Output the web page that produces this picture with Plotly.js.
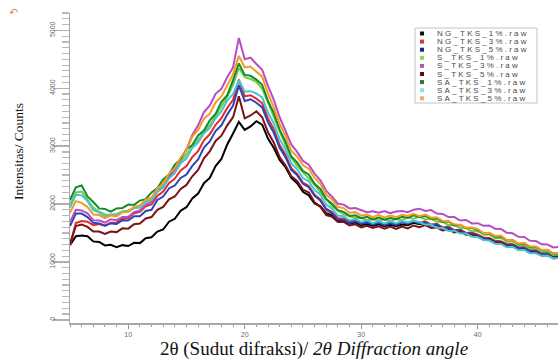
<!DOCTYPE html>
<html><head><meta charset="utf-8">
<script src="https://cdn.plot.ly/plotly-3.0.1.min.js"></script>
<style>html,body{margin:0;padding:0;background:#fff}#chart{width:558px;height:360px}</style>
</head><body><div id="chart"></div>
<script>
// 2θ grid (degrees)
const twoTheta = [5,5.5,6,6.5,7,7.5,8,8.5,9,9.5,10,10.5,11,11.5,12,12.5,13,13.5,14,14.5,15,15.5,16,16.5,17,17.5,18,18.5,19,19.5,20,20.5,21,21.5,22,22.5,23,23.5,24,24.5,25,25.5,26,26.5,27,27.5,28,28.5,29,29.5,30,30.5,31,31.5,32,32.5,33,33.5,34,34.5,35,35.5,36,36.5,37,37.5,38,38.5,39,39.5,40,40.5,41,41.5,42,42.5,43,43.5,44,44.5,45,45.5,46,46.5,47];

const seriesNames = ["NG_TKS_1%.raw","NG_TKS_3%.raw","NG_TKS_5%.raw","S_TKS_1%.raw","S_TKS_3%.raw","S_TKS_5%.raw","SA_TKS_1%.raw","SA_TKS_3%.raw","SA_TKS_5%.raw"];

const NG_TKS_1 = [1290,1445,1455,1445,1355,1345,1285,1295,1255,1290,
1275,1330,1325,1410,1425,1525,1560,1695,1745,1885,
1945,2095,2180,2360,2450,2655,2780,3030,3220,3420,
3280,3340,3430,3370,3130,2970,2760,2640,2450,2360,
2210,2150,2010,1960,1840,1805,1725,1715,1665,1680,
1635,1655,1620,1650,1615,1640,1615,1645,1635,1675,
1650,1675,1630,1640,1585,1595,1540,1545,1490,1495,
1465,1405,1410,1350,1350,1295,1295,1240,1245,1185,
1190,1135,1140,1095,1100];

const NG_TKS_3 = [1290,1670,1705,1695,1635,1655,1625,1675,1680,1745,
1760,1840,1865,1960,1995,2140,2215,2360,2440,2580,
2655,2810,2915,3100,3205,3370,3485,3660,3800,4150,
3860,3880,3820,3740,3480,3290,3020,2850,2620,2520,
2370,2310,2160,2080,1920,1860,1755,1750,1695,1720,
1675,1700,1655,1690,1650,1685,1655,1700,1675,1710,
1675,1700,1645,1660,1595,1610,1545,1560,1500,1510,
1470,1420,1410,1365,1355,1310,1300,1255,1250,1200,
1200,1155,1160,1115,1125];

const NG_TKS_5 = [1620,1835,1835,1775,1675,1665,1625,1665,1655,1720,
1715,1790,1790,1880,1900,2070,2130,2270,2320,2450,
2510,2660,2770,2975,3080,3260,3360,3545,3700,4050,
3780,3810,3750,3670,3410,3230,2970,2810,2590,2500,
2350,2290,2140,2060,1900,1840,1735,1730,1675,1700,
1655,1685,1645,1675,1635,1670,1640,1685,1660,1700,
1665,1690,1630,1650,1580,1600,1535,1550,1490,1500,
1460,1410,1405,1350,1350,1295,1300,1245,1250,1195,
1195,1145,1150,1105,1115];

const S_TKS_1 = [1980,2200,2215,2070,1940,1870,1820,1815,1830,1870,
1890,1930,1960,2040,2100,2230,2320,2470,2590,2730,
2860,2990,3100,3240,3360,3520,3690,3850,4060,4350,
4190,4160,4110,3990,3750,3490,3260,3020,2800,2660,
2550,2450,2330,2200,2070,1960,1880,1825,1790,1760,
1760,1720,1735,1715,1735,1705,1740,1720,1765,1745,
1780,1735,1745,1695,1695,1635,1640,1585,1585,1530,
1535,1470,1475,1410,1415,1350,1355,1290,1295,1230,
1240,1175,1185,1120,1130];

const S_TKS_3 = [1690,1900,1890,1840,1720,1715,1680,1735,1720,1775,
1780,1860,1890,1985,2040,2215,2290,2470,2585,2790,
2940,3195,3360,3590,3700,3905,3990,4190,4360,4870,
4500,4530,4420,4320,4040,3800,3500,3280,3030,2900,
2745,2680,2525,2410,2225,2125,2005,1990,1925,1930,
1900,1860,1875,1850,1880,1840,1870,1880,1860,1900,
1920,1880,1895,1835,1830,1775,1775,1715,1725,1665,
1670,1625,1630,1575,1570,1505,1495,1435,1430,1365,
1360,1305,1300,1250,1260];

const S_TKS_5 = [1310,1620,1645,1605,1525,1525,1485,1525,1515,1580,
1575,1650,1665,1750,1775,1900,1950,2080,2130,2260,
2330,2480,2590,2790,2910,3090,3180,3360,3500,3860,
3480,3530,3600,3500,3240,3060,2810,2670,2480,2400,
2250,2200,2030,1950,1810,1780,1690,1690,1630,1650,
1595,1625,1585,1615,1575,1610,1570,1610,1580,1630,
1600,1635,1585,1595,1545,1560,1510,1525,1470,1475,
1445,1385,1390,1335,1335,1275,1275,1215,1215,1160,
1165,1110,1115,1065,1070];

const SA_TKS_1 = [2070,2290,2320,2130,2035,1925,1915,1870,1925,1930,
1990,1985,2060,2085,2200,2275,2425,2510,2680,2775,
2945,3020,3185,3270,3445,3555,3765,3880,4140,4430,
4230,4215,4150,4060,3780,3570,3280,3080,2820,2720,
2570,2510,2350,2260,2085,2005,1895,1865,1795,1805,
1755,1780,1735,1765,1730,1760,1740,1780,1765,1805,
1775,1795,1745,1750,1690,1700,1630,1640,1585,1585,
1555,1495,1500,1435,1440,1375,1380,1310,1320,1255,
1260,1200,1205,1145,1150];

const SA_TKS_3 = [1940,2160,2150,2050,1895,1855,1785,1820,1805,1870,
1865,1930,1935,2030,2065,2215,2285,2440,2535,2700,
2790,2970,3060,3225,3310,3480,3600,3785,3900,4140,
3945,3950,3910,3840,3580,3390,3120,2940,2700,2600,
2450,2390,2240,2160,1990,1920,1800,1790,1720,1740,
1690,1720,1670,1705,1665,1700,1670,1705,1680,1710,
1690,1645,1645,1585,1585,1535,1540,1490,1490,1435,
1430,1380,1370,1315,1310,1255,1260,1205,1205,1150,
1150,1105,1110,1060,1070];

const SA_TKS_5 = [1850,2050,2020,1950,1820,1810,1755,1800,1785,1860,
1865,1955,1975,2075,2110,2275,2350,2525,2620,2805,
2930,3165,3280,3475,3560,3755,3860,4055,4240,4560,
4360,4375,4290,4200,3910,3670,3380,3180,2920,2820,
2670,2610,2450,2350,2160,2080,1950,1930,1850,1860,
1800,1820,1775,1810,1770,1800,1775,1815,1795,1830,
1790,1820,1765,1770,1705,1700,1650,1640,1590,1595,
1570,1495,1505,1450,1455,1380,1375,1315,1330,1265,
1265,1205,1210,1150,1160];

const seriesValues = [NG_TKS_1, NG_TKS_3, NG_TKS_5, S_TKS_1, S_TKS_3, S_TKS_5, SA_TKS_1, SA_TKS_3, SA_TKS_5];
const lineColors = ["#000000","#e52a24","#2c44b8","#72cc46","#b84cc2","#7c1214","#148a2c","#46c4d6","#f59b22"];
const legendColors = ["#111111","#d63a30","#1c2488","#86da5e","#b455c4","#5c1010","#2a7a30","#8ee2e4","#f2a878"];

const yTickVals = [0,1000,2000,3000,4000,5000];
const xTickVals = [10,20,30,40];

// layout geometry (pixels)
const W = 558, H = 360, ML = 70, MR = 0, MT = 13, MB = 37;
const PW = W - ML - MR, PH = H - MT - MB;
const px = x => (x - ML) / PW;
const py = y => (H - MB - y) / PH;
const LEG_TEXT_X = 437;

const traces = seriesValues.map((vals, i) => ({
  x: twoTheta, y: vals, type: 'scatter', mode: 'lines', name: seriesNames[i],
  line: {color: lineColors[i], width: 2}, showlegend: false, hoverinfo: 'skip'
}));

const shapes = [{
  type: 'rect', xref: 'paper', yref: 'paper',
  x0: px(415), x1: px(537), y0: py(103), y1: py(28),
  line: {color: '#c4c4cc', width: 1}, fillcolor: '#ffffff', layer: 'above'
}];
const annotations = [];
seriesNames.forEach((n, k) => {
  const yc = 33.5 + 8.1 * k;
  shapes.push({type: 'rect', xref: 'paper', yref: 'paper',
    x0: px(420), x1: px(424), y0: py(yc + 2), y1: py(yc - 2),
    line: {width: 0}, fillcolor: legendColors[k], layer: 'above'});
  annotations.push({xref: 'paper', yref: 'paper', x: px(LEG_TEXT_X), y: py(yc),
    xanchor: 'left', yanchor: 'middle', showarrow: false, text: n,
    font: {family: 'Liberation Sans', size: 8, color: '#4a4a4a'}});
});
annotations.push({xref: 'paper', yref: 'paper', x: px(18), y: py(152),
  xanchor: 'center', yanchor: 'middle', showarrow: false, textangle: -90,
  text: 'Intensitas/ Counts', font: {family: 'Liberation Serif', size: 13.5, color: '#111'}});
annotations.push({xref: 'paper', yref: 'paper', x: px(13), y: py(12),
  xanchor: 'center', yanchor: 'middle', showarrow: false,
  text: '↶', font: {family: 'DejaVu Sans', size: 11, color: '#f0825a'}});

const layout = {
  width: W, height: H,
  margin: {l: ML, r: MR, t: MT, b: MB, pad: 0},
  paper_bgcolor: '#ffffff', plot_bgcolor: '#ffffff',
  showlegend: false,
  xaxis: {
    range: [5, 46.9], showgrid: false, zeroline: false,
    showline: true, linecolor: '#a8a8a8', linewidth: 1.5,
    ticks: 'outside', ticklen: 4, tickwidth: 1, tickcolor: '#999',
    tickmode: 'array', tickvals: xTickVals, ticktext: xTickVals.map(String),
    tickfont: {family: 'Liberation Sans', size: 7, color: '#6a6a6a'},
    minor: {dtick: 1, tick0: 0, ticks: 'outside', ticklen: 2, tickcolor: '#999', tickwidth: 1},
    title: {text: '2θ (Sudut difraksi)/ <i>2θ Diffraction angle</i>',
      font: {family: 'Liberation Serif', size: 19, color: '#111'}, standoff: 8}
  },
  yaxis: {
    range: [-55, 5300], showgrid: false, zeroline: false,
    showline: true, linecolor: '#a8a8a8', linewidth: 1.5,
    ticks: 'outside', ticklen: 16, tickwidth: 1.5, tickcolor: '#b0b0b0',
    tickmode: 'array', tickvals: yTickVals, ticktext: yTickVals.map(String),
    tickangle: -90, ticklabelstandoff: -5,
    tickfont: {family: 'Liberation Sans', size: 7, color: '#6a6a6a'},
    minor: {dtick: 100, tick0: 0, ticks: 'outside', ticklen: 7, tickcolor: '#b8b8b8', tickwidth: 1.2}
  },
  shapes: shapes,
  annotations: annotations
};

Plotly.newPlot('chart', traces, layout, {staticPlot: true, displayModeBar: false}).then(() => {
  document.querySelectorAll('g.annotation').forEach(g => {
    const idx = +g.getAttribute('data-index');
    if (idx < seriesNames.length) {
      g.querySelectorAll('text').forEach(t => {
        t.style.letterSpacing = '2.2px';
        t.setAttribute('text-anchor', 'start');
        const b = t.getBoundingClientRect();
        const shift = LEG_TEXT_X - b.left;
        t.setAttribute('x', (parseFloat(t.getAttribute('x')) || 0) + shift);
      });
    }
  });
});
</script>
</body></html>
